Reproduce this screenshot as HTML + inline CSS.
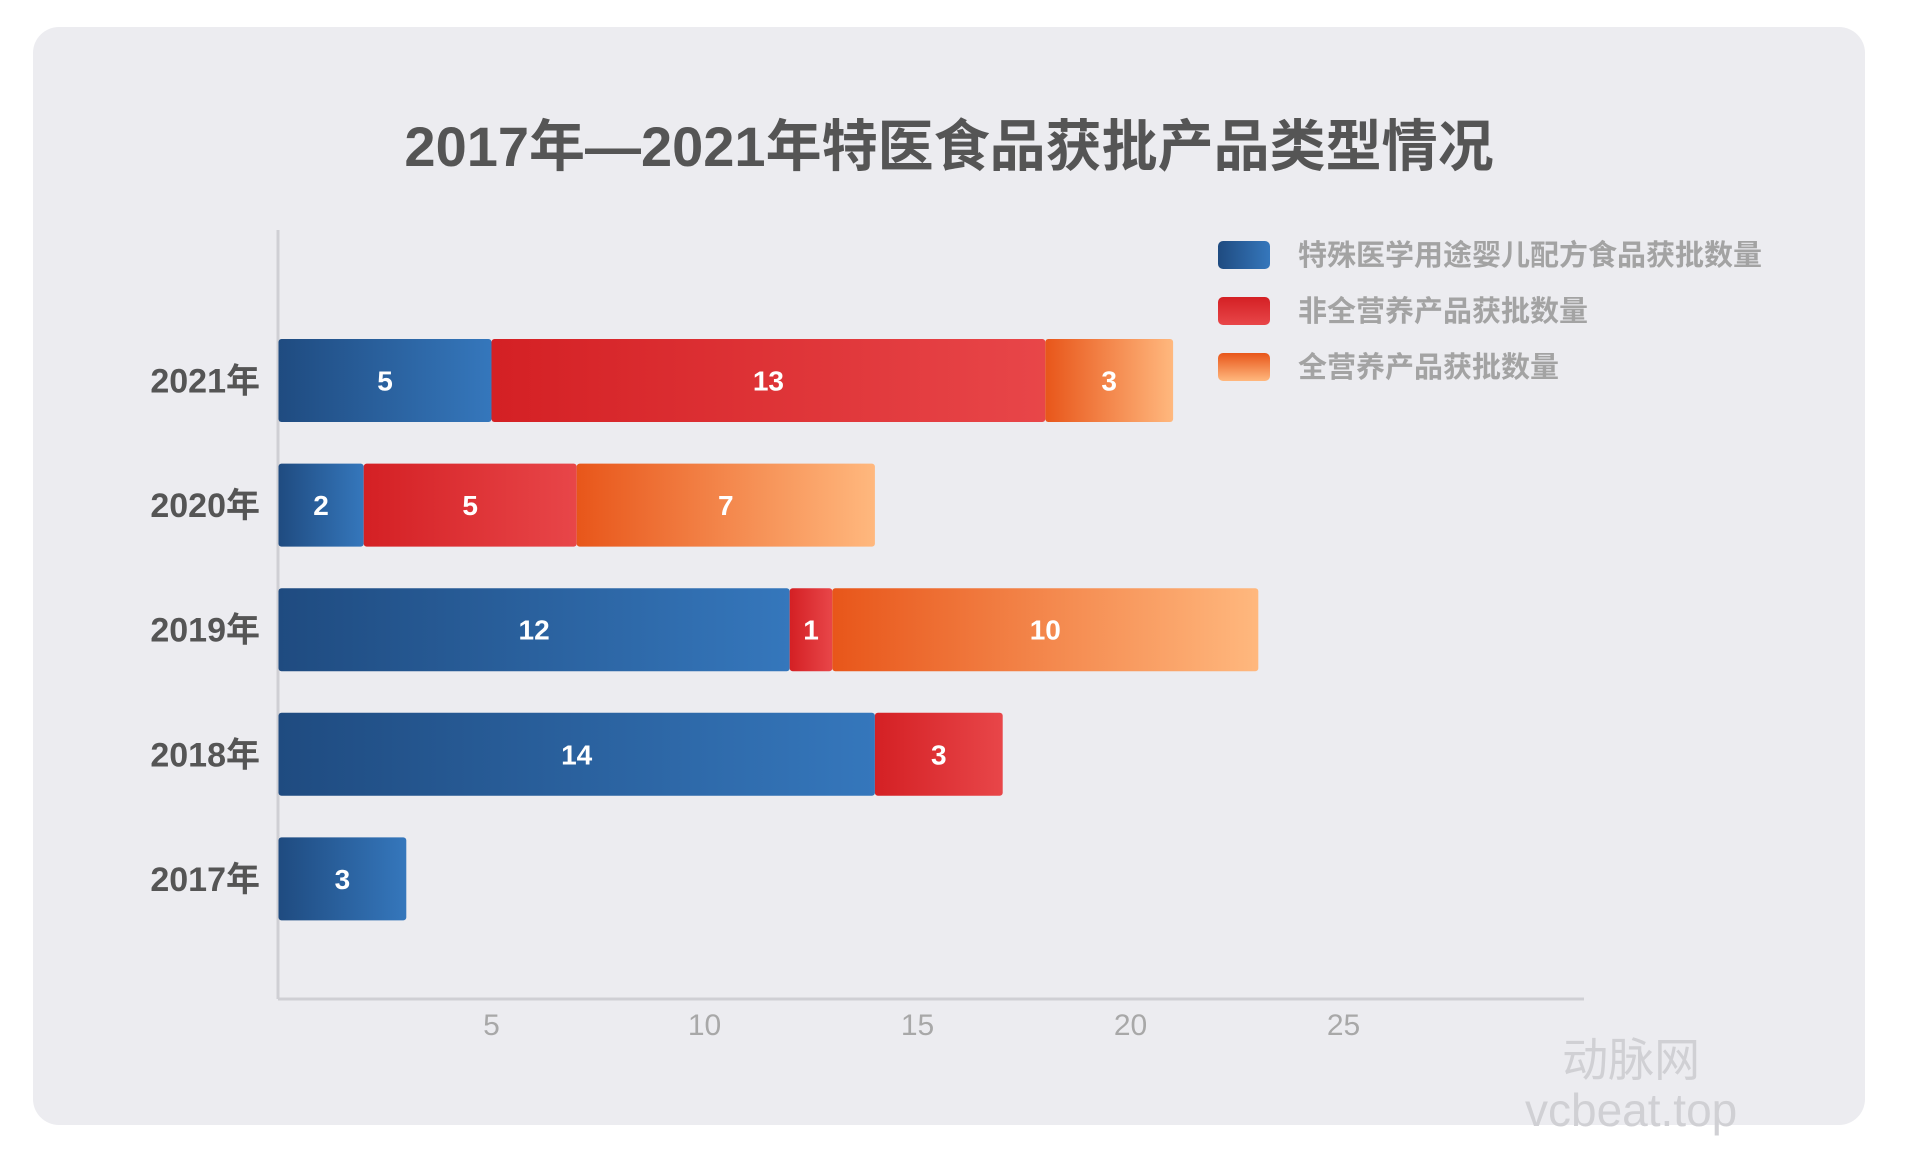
<!DOCTYPE html>
<html><head><meta charset="utf-8"><style>
html,body{margin:0;padding:0;background:#fff;}
body{width:1905px;height:1155px;position:relative;overflow:hidden;font-family:"Liberation Sans","Noto Sans CJK SC",sans-serif;}
.card{position:absolute;left:33px;top:27px;width:1832px;height:1098px;background:#ececf0;border-radius:26px;}
.title{position:absolute;left:0;width:1898px;top:102px;text-align:center;font-size:56px;font-weight:bold;color:#555;}
.wm{position:absolute;left:1525px;top:1035px;color:#d0d0d4;font-size:46px;line-height:50px;text-align:center;}
</style></head><body>
<div class="card"></div>
<div class="title">2017年—2021年特医食品获批产品类型情况</div>
<svg id="chart" width="1905" height="1155" style="position:absolute;left:0;top:0">
<defs>
<linearGradient id="gb" x1="0" x2="1"><stop offset="0" stop-color="#1f4b80"/><stop offset="1" stop-color="#3577bc"/></linearGradient>
<linearGradient id="gr" x1="0" x2="1"><stop offset="0" stop-color="#d42024"/><stop offset="1" stop-color="#e84649"/></linearGradient>
<linearGradient id="go" x1="0" x2="1"><stop offset="0" stop-color="#e8561a"/><stop offset="1" stop-color="#ffb87e"/></linearGradient>
<linearGradient id="gbv" x1="0" x2="1"><stop offset="0" stop-color="#1f4b80"/><stop offset="1" stop-color="#3577bc"/></linearGradient>
<linearGradient id="grv" x1="0" x2="0" y1="0" y2="1"><stop offset="0" stop-color="#d42024"/><stop offset="1" stop-color="#e84649"/></linearGradient>
<linearGradient id="gov" x1="0" x2="0" y1="0" y2="1"><stop offset="0" stop-color="#e8561a"/><stop offset="1" stop-color="#ffb87e"/></linearGradient>
</defs>
<g id="g"></g>
</svg>
<div class="wm">动脉网<br>vcbeat.top</div>
<script>
const categories=["2021年","2020年","2019年","2018年","2017年"];
const seriesInfant=[5,2,12,14,3];
const seriesNonFull=[13,5,1,3,0];
const seriesFull=[3,7,10,0,0];
const xTicks=[5,10,15,20,25];
const seriesNames=["特殊医学用途婴儿配方食品获批数量","非全营养产品获批数量","全营养产品获批数量"];
const NS="http://www.w3.org/2000/svg";
const g=document.getElementById('g');
const x0=278.5,unit=42.6;
const X=v=>x0+v*unit;
const Y=i=>339+i*124.6;
const bh=83;
function mk(t,a){const e=document.createElementNS(NS,t);for(const k in a)e.setAttribute(k,a[k]);g.appendChild(e);return e;}
let ax=mk('line',{x1:278,y1:230,x2:278,y2:999,stroke:'#cfcfd4','stroke-width':3});


let bx=mk('line',{x1:278,y1:999,x2:1584,y2:999,stroke:'#cfcfd4','stroke-width':3});


xTicks.forEach(t=>{
 const e=mk('text',{x:X(t),y:1035,'text-anchor':'middle','font-size':30,fill:'#a8a8a8'});
 e.textContent=t;
 
 
});
const fills=['url(#gb)','url(#gr)','url(#go)'];
const series=[seriesInfant,seriesNonFull,seriesFull];
categories.forEach((c,i)=>{
 const l=mk('text',{x:260,y:Y(i)+bh/2+12,'text-anchor':'end','font-size':34,'font-weight':'bold',fill:'#555'});
 l.textContent=c;
 
 
 let acc=0;
 series.forEach((s,k)=>{
  const v=s[i];if(!v)return;
  const r=mk('rect',{x:X(acc),y:Y(i),width:v*unit,height:bh,rx:3,fill:fills[k]});
  
  
  const t=mk('text',{x:X(acc+v/2),y:Y(i)+bh/2+10,'text-anchor':'middle','font-size':28,'font-weight':'bold',fill:'#fff'});
  t.textContent=v;
  
  
  acc+=v;
 });
});
const lf=['url(#gbv)','url(#grv)','url(#gov)'];
seriesNames.forEach((n,k)=>{
 const r=mk('rect',{x:1218,y:241+k*56,width:52,height:28,rx:5,fill:lf[k]});
 
 
 const t=mk('text',{x:1298,y:265+k*56,'font-size':29,'font-weight':'bold',fill:'#a3a3a3'});
 t.textContent=n;
 
 
});
</script>
</body></html>
